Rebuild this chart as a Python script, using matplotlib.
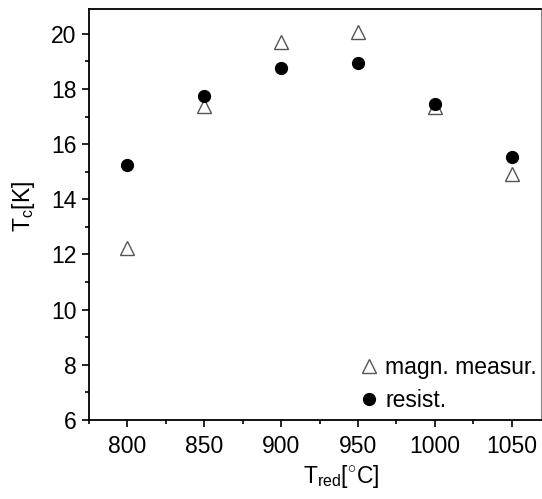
import matplotlib
matplotlib.use("Agg")
import matplotlib.pyplot as plt
from matplotlib.ticker import MultipleLocator

plt.rcParams['font.family'] = ['Liberation Sans', 'DejaVu Sans']
plt.rcParams['mathtext.fontset'] = 'custom'
plt.rcParams['mathtext.rm'] = 'Liberation Sans'
plt.rcParams['mathtext.it'] = 'Liberation Sans'

temps = [800, 850, 900, 950, 1000, 1050]
magn = [12.25, 17.4, 19.7, 20.05, 17.35, 14.92]
resist = [15.25, 17.75, 18.75, 18.95, 17.45, 15.55]

FS = 16.5

fig = plt.figure(figsize=(5.42, 4.99), dpi=100)
ax = fig.add_axes([89/542, 1 - 420/499, (541 - 89)/542, (420 - 9)/499])

ax.plot(temps, magn, linestyle='none', marker='^', markersize=10,
        markerfacecolor='white', markeredgecolor='#555555', markeredgewidth=1.0,
        label='magn. measur.')
ax.plot(temps, resist, linestyle='none', marker='o', markersize=8.5,
        color='black', label='resist.')

ax.set_xlim(775, 1069)
ax.set_ylim(6, 20.9)
ax.xaxis.set_major_locator(MultipleLocator(50))
ax.xaxis.set_minor_locator(MultipleLocator(25))
ax.yaxis.set_major_locator(MultipleLocator(2))
ax.yaxis.set_minor_locator(MultipleLocator(1))
ax.tick_params(which='both', direction='out', top=False, right=False, labelsize=FS)
ax.tick_params(which='major', length=5, width=1.2, pad=4)
ax.tick_params(which='minor', length=3, width=1.2)
ax.tick_params(axis='x', which='major', pad=6)
for s in ['left', 'bottom', 'top']:
    ax.spines[s].set_linewidth(1.3)
ax.spines['right'].set_color('#888888')

ax.set_xlabel(r'T$_{\mathrm{red}}$[$^{\circ}$C]', fontsize=FS)
ax.xaxis.set_label_coords(0.557, -0.105)
ax.set_ylabel(r'T$_{\mathrm{c}}$[K]', fontsize=FS)
ax.yaxis.set_label_coords(-0.115, 0.52)

ax.legend(loc='lower right', frameon=False, fontsize=FS, handletextpad=0.2,
          borderaxespad=0.0, labelspacing=0.4, handlelength=1.0,
          bbox_to_anchor=(1.011, -0.002))

fig.savefig('out.png', dpi=100)
